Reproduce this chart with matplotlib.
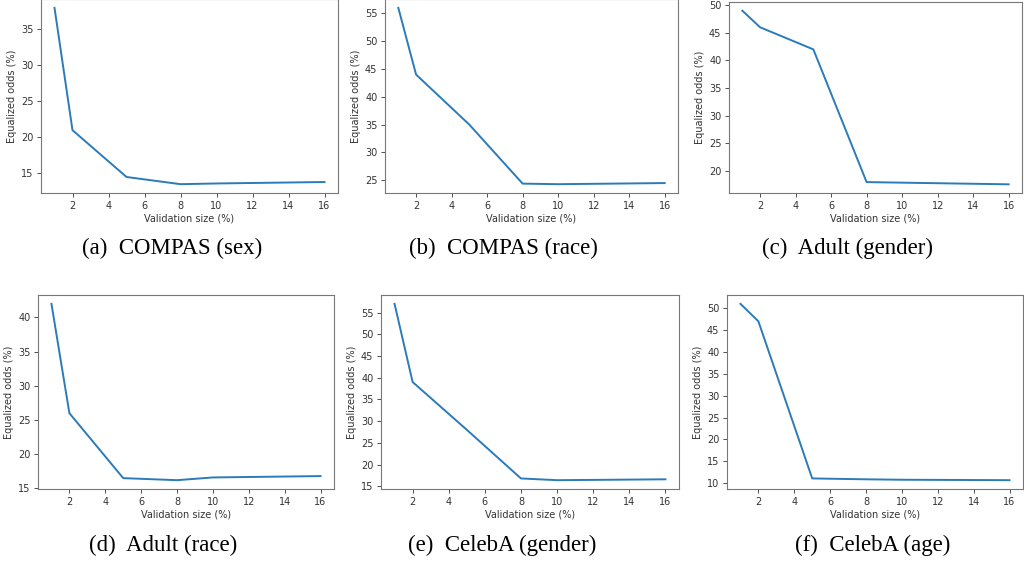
import matplotlib
matplotlib.use("Agg")
import matplotlib.pyplot as plt

# Validation sizes (%) shared by all panels
val_size = [1, 2, 5, 8, 10, 16]

# Equalized odds (%)
compas_sex = [38.0, 21.0, 14.5, 13.5, 13.6, 13.8]
compas_race = [56.0, 44.0, 35.0, 24.4, 24.3, 24.5]
adult_gender = [49.0, 46.0, 42.0, 18.0, 17.9, 17.6]
adult_race = [42.0, 26.0, 16.5, 16.2, 16.6, 16.8]
celeba_gender = [57.0, 39.0, 28.0, 16.8, 16.4, 16.6]
celeba_age = [51.0, 47.0, 11.1, 10.9, 10.8, 10.7]

series = [compas_sex, compas_race, adult_gender,
          adult_race, celeba_gender, celeba_age]
captions = ["(a)  COMPAS (sex)", "(b)  COMPAS (race)", "(c)  Adult (gender)",
            "(d)  Adult (race)", "(e)  CelebA (gender)", "(f)  CelebA (age)"]

W, H = 1024, 562
fig = plt.figure(figsize=(W / 100, H / 100), dpi=100)

# axes boxes in pixels: left, top, right, bottom
boxes = [(41, -1, 338, 193), (385, -1, 678, 193), (729, 2, 1022, 193),
         (38, 295, 334, 489), (381, 295, 679, 489), (727, 295, 1023, 489)]
cap_pos = [(172, 248), (503, 248), (848, 248),
           (163, 545), (502, 545), (873, 545)]

for vals, box, cap, cp in zip(series, boxes, captions, cap_pos):
    l, t, r, b = box
    ax = fig.add_axes([l / W, (H - b) / H, (r - l) / W, (b - t) / H])
    ax.plot(val_size, vals, color="#2b7bba", linewidth=1.4)
    ax.set_xticks([2, 4, 6, 8, 10, 12, 14, 16])
    ax.tick_params(labelsize=7, colors="#333333", length=3, width=0.6, pad=2.5)
    ax.set_xlabel("Validation size (%)", fontsize=7, color="#333333", labelpad=2)
    ax.set_ylabel("Equalized odds (%)", fontsize=7, color="#333333", labelpad=3)
    for s in ax.spines.values():
        s.set_color("#777777")
        s.set_linewidth(0.8)
    fig.text(cp[0] / W, 1 - cp[1] / H, cap, ha="center", va="center",
             fontsize=16.5, family="Liberation Serif")

fig.savefig("out.png", dpi=100)
